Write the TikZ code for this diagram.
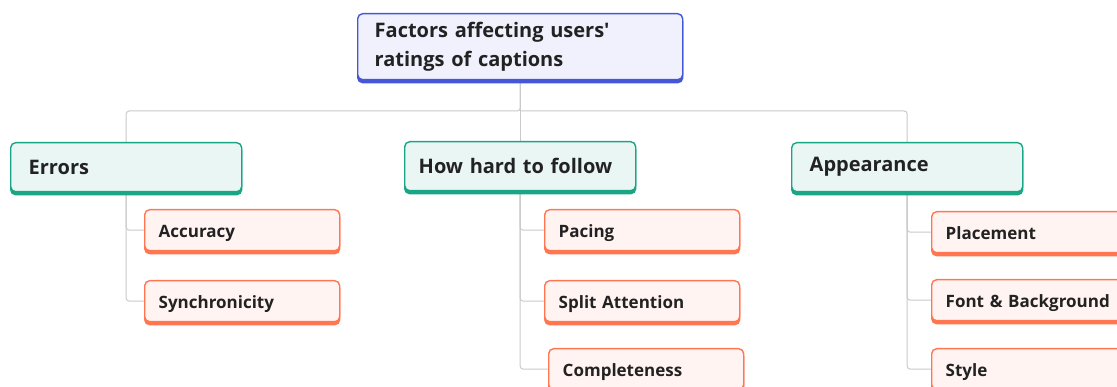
\documentclass[tikz,border=0pt]{standalone}
\usepackage{fontspec}
\setmainfont{Open Sans}
\usepackage{xcolor}
\usetikzlibrary{positioning, shadows, backgrounds}

\definecolor{rootfill}{HTML}{F0F1FC}
\definecolor{rootline}{HTML}{4557D8}
\definecolor{catfill}{HTML}{EAF6F3}
\definecolor{catline}{HTML}{1AA585}
\definecolor{leaffill}{HTML}{FFF4F1}
\definecolor{leafline}{HTML}{FF7651}
\definecolor{linkgray}{HTML}{CACACA}
\definecolor{ink}{HTML}{222222}

\begin{document}
\begin{tikzpicture}[
    x=1pt, y=-1pt,
    box/.style={rectangle, anchor=north west, align=left, text=ink,
        rounded corners=5pt, line width=1.4pt},
    rootbox/.style={box, draw=rootline, fill=rootfill,
        minimum height=66pt, text width=291pt, inner xsep=17pt,
        font=\fontsize{20}{29.5}\selectfont\bfseries,
        copy shadow={shadow xshift=0pt, shadow yshift=-3pt, draw=rootline, fill=rootline}},
    catbox/.style={box, draw=catline, fill=catfill,
        minimum height=49pt, text width=195pt, inner xsep=18pt,
        font=\fontsize{20}{24}\selectfont\bfseries,
        copy shadow={shadow xshift=0pt, shadow yshift=-3pt, draw=catline, fill=catline}},
    leafbox/.style={box, draw=leafline, fill=leaffill,
        minimum height=41pt, text width=167pt, inner xsep=14pt,
        text height=15pt, text depth=1pt,
        font=\fontsize{17}{20}\selectfont\bfseries,
        copy shadow={shadow xshift=0pt, shadow yshift=-3pt, draw=leafline, fill=leafline}},
    link/.style={draw=linkgray, line width=1pt, rounded corners=3pt}
]
    \clip (0,0) rectangle (1117,387);

    % Root and the three factor groups:
    \node[rootbox] (root) at (357,13) {Factors affecting users\textquotesingle\\ratings of captions};
    \node[catbox] (errors) at (10,142) {Errors};
    \node[catbox, inner xsep=14pt, text width=203pt] (hard) at (404,141) {How hard to follow};
    \node[catbox] (looks) at (791,142) {Appearance};

    % Leaves of each group:
    \node[leafbox] (acc) at (144,209) {Accuracy};
    \node[leafbox] (sync) at (144,280) {Synchronicity};
    \node[leafbox] (pace) at (544,209) {Pacing};
    \node[leafbox] (split) at (544,280) {Split Attention};
    \node[leafbox] (compl) at (548,348) {Completeness};
    \node[leafbox] (place) at (931,211) {Placement};
    \node[leafbox] (fontbg) at (931,279) {Font \& Background};
    \node[leafbox] (look) at (931,348) {Style};

    \coordinate (bus) at (0,111);

    \begin{scope}[on background layer]
        \draw[link] (root.south) -- (root.south |- bus) -| (errors.north);
        \draw[link] (root.south |- bus) -| (looks.north);
        \draw[link] (root.south) -- (hard.north);
        \foreach \p/\c in {errors/acc, errors/sync, hard/pace, hard/split, hard/compl,
                           looks/place, looks/fontbg, looks/look}
            \draw[link] (\p.south) |- (\c.west);
    \end{scope}
\end{tikzpicture}
\end{document}
